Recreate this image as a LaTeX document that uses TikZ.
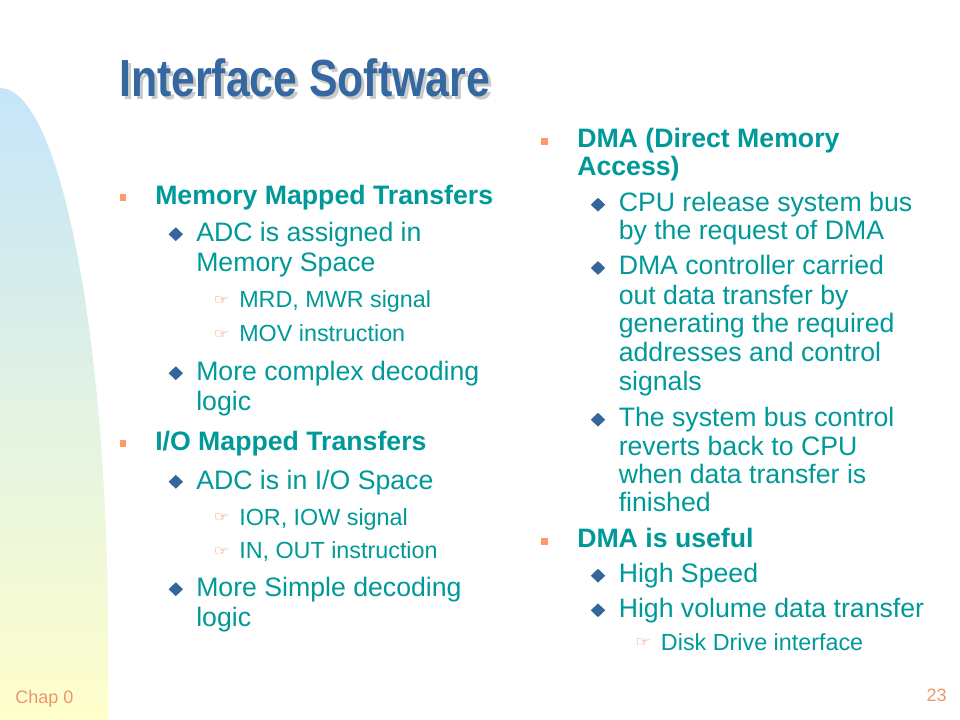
\documentclass[tikz,border=0pt]{standalone}
\usepackage{fontspec}
\setmainfont{Liberation Sans}
\newfontfamily\symfont{DejaVu Sans}
\usetikzlibrary{shapes.geometric}
\definecolor{teal1}{HTML}{009999}
\definecolor{titleblue}{HTML}{3568A0}
\definecolor{shadowgray}{HTML}{CACACA}
\definecolor{orng}{HTML}{FF9966}
\definecolor{handorng}{HTML}{F08058}
\definecolor{chaporng}{HTML}{F0946C}
\definecolor{navy1}{HTML}{336699}
\definecolor{skyblue}{RGB}{197,229,250}
\definecolor{paleyellow}{RGB}{255,255,204}
\newcommand{\titletext}{\resizebox{278pt}{28.4pt}{\bfseries Interface Software}}
\newcommand{\handglyph}{\scalebox{1.2}[0.9]{☞}}
\tikzset{
  txtone/.style={anchor=base west, inner sep=0pt, text=teal1, font=\fontsize{20pt}{24pt}\selectfont\bfseries},
  txttwo/.style={anchor=base west, inner sep=0pt, text=teal1, font=\fontsize{20pt}{24pt}\selectfont},
  txtthree/.style={anchor=base west, inner sep=0pt, text=teal1, font=\fontsize{17.5pt}{21pt}\selectfont},
  sqbullet/.style={rectangle, fill=orng, draw=none, minimum size=5.2pt, inner sep=0pt},
  dmbullet/.style={diamond, fill=navy1, draw=none, minimum width=11pt, minimum height=10.5pt, inner sep=0pt},
  handbullet/.style={inner sep=0pt, text=handorng, font=\symfont\fontsize{11pt}{12pt}\selectfont},
  footer/.style={inner sep=0pt, text=chaporng, font=\fontsize{13.5pt}{16pt}\selectfont}
}
\begin{document}
\begin{tikzpicture}[x=0.75pt,y=-0.75pt]
\useasboundingbox (0,0) rectangle (960,720);
\fill[white] (0,0) rectangle (960,720);
% left decorative gradient shape
\shade[top color=skyblue, bottom color=paleyellow]
  (0,88) .. controls (59.6,88) and (108,335) .. (108,640) -- (108,720) -- (0,720) -- cycle;
% title with its shadow, as one text
\node[anchor=base west, inner sep=0pt] (title) at (119,97)
  {\makebox[0pt][l]{\hspace{2.2pt}\raisebox{-2.2pt}{\textcolor{shadowgray}{\titletext}}}\textcolor{titleblue}{\titletext}};
% ---------- left column ----------
\node[sqbullet] (lb1) at (123,197.9) {};
\node[txtone] (lt1) at (155,204.3) {Memory Mapped Transfers};
\node[dmbullet] (lb2) at (175.8,234.2) {};
\node[txttwo] (lt2a) at (196,241.7) {ADC is assigned in};
\node[txttwo] (lt2b) at (196,271.7) {Memory Space};
\node[handbullet] (lb3) at (221.7,300.7) {\handglyph};
\node[txtthree] (lt3) at (239,307.7) {MRD, MWR signal};
\node[handbullet] (lb4) at (221.7,334.7) {\handglyph};
\node[txtthree] (lt4) at (239,341.7) {MOV instruction};
\node[dmbullet] (lb5) at (175.8,373.2) {};
\node[txttwo] (lt5a) at (196,380.7) {More complex decoding};
\node[txttwo] (lt5b) at (196,410.7) {logic};
\node[sqbullet] (lb6) at (123,443.6) {};
\node[txtone] (lt6) at (155,450) {I/O Mapped Transfers};
\node[dmbullet] (lb7) at (175.8,481.8) {};
\node[txttwo] (lt7) at (196,489.3) {ADC is in I/O Space};
\node[handbullet] (lb8) at (221.7,518) {\handglyph};
\node[txtthree] (lt8) at (239,525) {IOR, IOW signal};
\node[handbullet] (lb9) at (221.7,551.3) {\handglyph};
\node[txtthree] (lt9) at (239,558.3) {IN, OUT instruction};
\node[dmbullet] (lb10) at (175.8,589.2) {};
\node[txttwo] (lt10a) at (196,596.7) {More Simple decoding};
\node[txttwo] (lt10b) at (196,626.7) {logic};
% ---------- right column ----------
\node[sqbullet] (rb1) at (544.5,141.7) {};
\node[txtone] (rt1a) at (577,147.7) {DMA (Direct Memory};
\node[txtone] (rt1b) at (577,176) {Access)};
\node[dmbullet] (rb2) at (598,204.7) {};
\node[txttwo] (rt2a) at (618.5,211.7) {CPU release system bus};
\node[txttwo] (rt2b) at (618.5,240) {by the request of DMA};
\node[dmbullet] (rb3) at (598,268) {};
\node[txttwo] (rt3a) at (618.5,275) {DMA controller carried};
\node[txttwo] (rt3b) at (618.5,304.3) {out data transfer by};
\node[txttwo] (rt3c) at (618.5,332.3) {generating the required};
\node[txttwo] (rt3d) at (618.5,361.7) {addresses and control};
\node[txttwo] (rt3e) at (618.5,390) {signals};
\node[dmbullet] (rb4) at (598,419.7) {};
\node[txttwo] (rt4a) at (618.5,426.7) {The system bus control};
\node[txttwo] (rt4b) at (618.5,455) {reverts back to CPU};
\node[txttwo] (rt4c) at (618.5,483.3) {when data transfer is};
\node[txttwo] (rt4d) at (618.5,511.7) {finished};
\node[sqbullet] (rb5) at (544.5,541.7) {};
\node[txtone] (rt5) at (577,547.7) {DMA is useful};
\node[dmbullet] (rb6) at (598,575.7) {};
\node[txttwo] (rt6) at (618.5,582.7) {High Speed};
\node[dmbullet] (rb7) at (598,610.3) {};
\node[txttwo] (rt7) at (618.5,617.3) {High volume data transfer};
\node[handbullet] (rb8) at (643.3,643) {\handglyph};
\node[txtthree] (rt8) at (660.7,650) {Disk Drive interface};
% footer
\node[footer, anchor=base west] (chap) at (15,703.3) {Chap 0};
\node[footer, anchor=base east] (pagenum) at (947,701.7) {23};
\end{tikzpicture}
\end{document}
